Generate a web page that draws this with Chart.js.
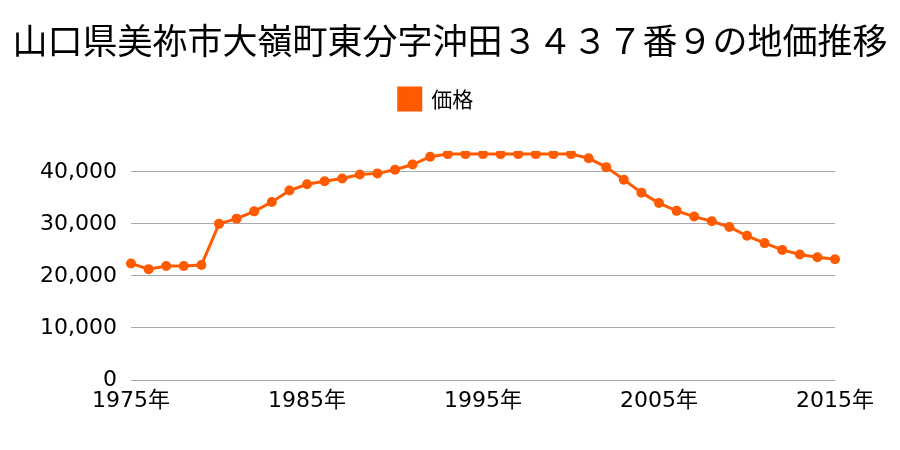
<!DOCTYPE html>
<html>
<head>
  <meta charset="utf-8">
  <script src="https://cdn.jsdelivr.net/npm/chart.js@4"></script>
  <style>
    body { margin: 0; background: #fff; }
    #wrap { width: 900px; height: 450px; }
  </style>
</head>
<body>
  <div id="wrap"><canvas id="myChart"></canvas></div>
  <script>
    var title = '山口県美祢市大嶺町東分字沖田３４３７番９の地価推移'
    var seriesName = '価格'
    var years = []
    for (var y = 1975; y <= 2015; y++) years.push(y)
    var prices = [
      22400, 21300, 21900, 21900, 22100, 30000, 31000, 32400, 34200, 36400,
      37600, 38200, 38700, 39500, 39700, 40400, 41400, 42900, 43400, 43400,
      43400, 43400, 43400, 43400, 43400, 43400, 42600, 40900, 38500, 36000,
      34000, 32500, 31400, 30500, 29400, 27700, 26300, 25000, 24100, 23600,
      23200
    ]
    var yTicks = [0, 10000, 20000, 30000, 40000]
    var xTickYears = [1975, 1985, 1995, 2005, 2015]

    var font = '"Noto Sans CJK JP", "Noto Sans", sans-serif'
    var tickFont = '"DejaVu Sans", "Noto Sans CJK JP", sans-serif'
    var orange = '#ff5a00'

    // push the plot down below the legend, nudge legend a bit left
    var legendSpace = {
      id: 'legendSpace',
      afterInit: function (chart) {
        var fit = chart.legend.fit
        chart.legend.fit = function () {
          fit.call(this)
          this.height += 31
        }
      },
      afterLayout: function (chart) {
        chart.legend.left -= 14
        chart.legend.right -= 14
      }
    }

    var ctx = document.getElementById('myChart').getContext('2d')
    var chart = new Chart(ctx, {
      type: 'line',
      data: {
        labels: years,
        datasets: [{
          label: seriesName,
          data: prices,
          borderColor: orange,
          backgroundColor: orange,
          borderWidth: 3,
          pointRadius: 5,
          pointHoverRadius: 5,
          pointBackgroundColor: orange,
          pointBorderWidth: 0,
          tension: 0
        }]
      },
      plugins: [legendSpace],
      options: {
        responsive: true,
        maintainAspectRatio: false,
        animation: false,
        layout: { padding: { left: 0, right: 0, top: 0, bottom: 30 } },
        plugins: {
          title: {
            display: true,
            text: title,
            color: '#000',
            font: { family: font, size: 35, weight: 'normal' },
            padding: { top: 20, bottom: 16 }
          },
          legend: {
            display: true,
            labels: {
              color: '#000',
              font: { family: font, size: 21 },
              boxWidth: 22,
              boxHeight: 22,
              padding: 10
            }
          },
          tooltip: { enabled: false }
        },
        scales: {
          x: {
            type: 'category',
            offset: false,
            grid: { display: false, drawTicks: false },
            border: { display: false },
            afterFit: function (axis) { axis.height = 40 },
            ticks: {
              color: '#000',
              font: { family: tickFont, size: 22 },
              padding: 8,
              autoSkip: false,
              maxRotation: 0,
              callback: function (v, i) {
                var yr = years[i]
                return xTickYears.indexOf(yr) >= 0 ? yr + '年' : null
              }
            }
          },
          y: {
            min: 0,
            max: 44000,
            grid: { color: '#aaaaaa', lineWidth: 1, drawTicks: false },
            border: { display: false },
            afterFit: function (axis) { axis.width = 131 },
            afterBuildTicks: function (axis) {
              axis.ticks = yTicks.map(function (v) { return { value: v } })
            },
            ticks: {
              color: '#000',
              font: { family: tickFont, size: 22 },
              padding: 14,
              callback: function (v) { return v.toLocaleString('en-US') }
            }
          },
          yRight: {
            position: 'right',
            display: true,
            grid: { display: false, drawTicks: false },
            border: { display: false },
            ticks: { display: false },
            afterFit: function (axis) { axis.width = 65 }
          }
        }
      }
    })
  </script>
</body>
</html>
